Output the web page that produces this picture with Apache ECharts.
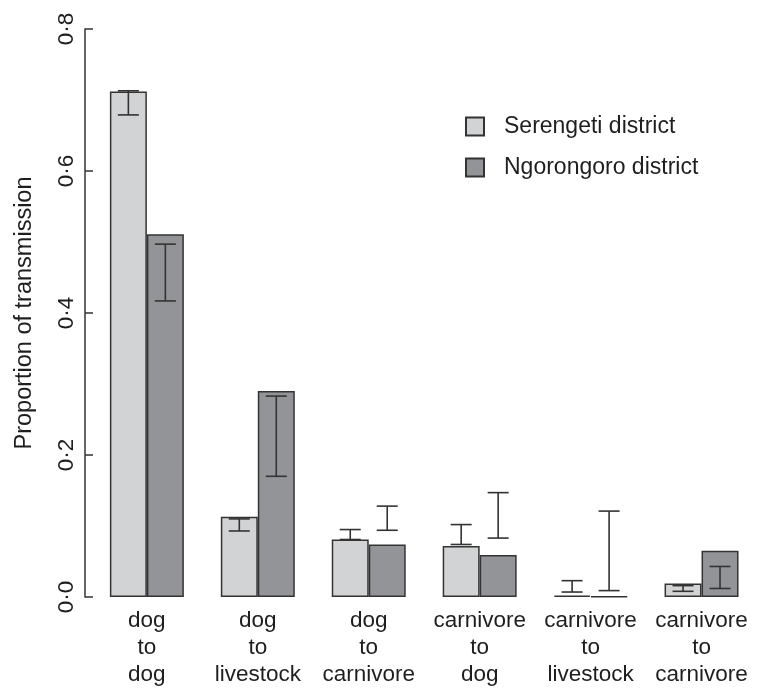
<!DOCTYPE html>
<html>
<head>
<meta charset="utf-8">
<script src="https://cdn.jsdelivr.net/npm/echarts@6/dist/echarts.min.js"></script>
<style>
html,body{margin:0;padding:0;background:#fff;}
#chart{width:757px;height:688px;}
</style>
</head>
<body>
<div id="chart"></div>
<script>
const categories = ['dog\nto\ndog', 'dog\nto\nlivestock', 'dog\nto\ncarnivore', 'carnivore\nto\ndog', 'carnivore\nto\nlivestock', 'carnivore\nto\ncarnivore'];
const seriesNames = ['Serengeti district', 'Ngorongoro district'];
const serengeti = [0.712, 0.113, 0.081, 0.072, 0.002, 0.019];
const ngorongoro = [0.511, 0.290, 0.074, 0.059, 0.001, 0.065];
const serengetiLow = [0.679, 0.093, 0.081, 0.074, 0.007, 0.008];
const serengetiHigh = [0.713, 0.110, 0.095, 0.102, 0.023, 0.016];
const ngorongoroLow = [0.417, 0.170, 0.094, 0.083, 0.009, 0.012];
const ngorongoroHigh = [0.497, 0.283, 0.128, 0.147, 0.121, 0.043];
const yTicks = [0, 0.2, 0.4, 0.6, 0.8];

const FONT = "'Liberation Sans', Arial, Helvetica, sans-serif";
const TEXT = '#1e1e1e';
const LINE = '#333';

function errorSeries(name, low, high, side) {
  return {
    type: 'custom',
    name: name + ' error',
    silent: true,
    z: 5,
    data: low.map((l, i) => [i, l, high[i]]),
    encode: { x: 0, y: [1, 2] },
    renderItem: function (params, api) {
      const idx = api.value(0);
      const band = api.size([1, 0])[0];
      const pLow = api.coord([idx, api.value(1)]);
      const pHigh = api.coord([idx, api.value(2)]);
      const x = pLow[0] + side * band / 6;
      const cap = 10.5;
      const style = { stroke: LINE, lineWidth: 1.6 };
      return {
        type: 'group',
        children: [
          { type: 'line', shape: { x1: x, y1: pLow[1], x2: x, y2: pHigh[1] }, style: style },
          { type: 'line', shape: { x1: x - cap, y1: pLow[1], x2: x + cap, y2: pLow[1] }, style: style },
          { type: 'line', shape: { x1: x - cap, y1: pHigh[1], x2: x + cap, y2: pHigh[1] }, style: style }
        ]
      };
    }
  };
}

const chart = echarts.init(document.getElementById('chart'));
chart.setOption({
  animation: false,
  backgroundColor: '#fff',
  textStyle: { fontFamily: FONT },
  grid: { left: 91.4, top: 29, width: 669, height: 570.5, containLabel: false },
  legend: {
    data: seriesNames,
    orient: 'vertical',
    left: 465,
    top: 115,
    padding: 0,
    itemWidth: 18,
    itemHeight: 18,
    itemGap: 18,
    icon: 'rect',
    textStyle: { fontSize: 23, lineHeight: 18, color: TEXT, fontFamily: FONT, padding: [0, 0, 0, 15] }
  },
  xAxis: {
    type: 'category',
    data: categories,
    axisLine: { show: false },
    axisTick: { show: false },
    axisLabel: { fontSize: 22.5, lineHeight: 27, color: TEXT, margin: 10, interval: 0, fontFamily: FONT }
  },
  yAxis: {
    type: 'value',
    min: 0,
    max: 0.8,
    interval: 0.2,
    offset: 6.4,
    name: 'Proportion of transmission',
    nameLocation: 'middle',
    nameRotate: 90,
    nameGap: 48,
    nameTextStyle: { fontSize: 23.5, color: TEXT, fontFamily: FONT },
    axisLine: { show: true, lineStyle: { color: LINE, width: 1.5 } },
    axisTick: { show: true, inside: true, length: 8, lineStyle: { color: LINE, width: 1.5 } },
    splitLine: { show: false },
    axisLabel: {
      rotate: 90,
      fontSize: 22.5,
      color: TEXT,
      margin: 7,
      fontFamily: FONT,
      formatter: function (v) {
        const t = yTicks.find(x => Math.abs(x - v) < 1e-9);
        return (t === undefined ? v : t).toFixed(1).replace('.', '\u00b7');
      }
    }
  },
  series: [
    {
      type: 'bar',
      name: seriesNames[0],
      data: serengeti,
      barGap: '0%',
      barCategoryGap: '33.333%',
      itemStyle: { color: '#d2d3d5', borderColor: LINE, borderWidth: 1.5 }
    },
    {
      type: 'bar',
      name: seriesNames[1],
      data: ngorongoro,
      barGap: '0%',
      barCategoryGap: '33.333%',
      itemStyle: { color: '#939497', borderColor: LINE, borderWidth: 1.5 }
    },
    errorSeries(seriesNames[0], serengetiLow, serengetiHigh, -1),
    errorSeries(seriesNames[1], ngorongoroLow, ngorongoroHigh, 1)
  ]
});
</script>
</body>
</html>
